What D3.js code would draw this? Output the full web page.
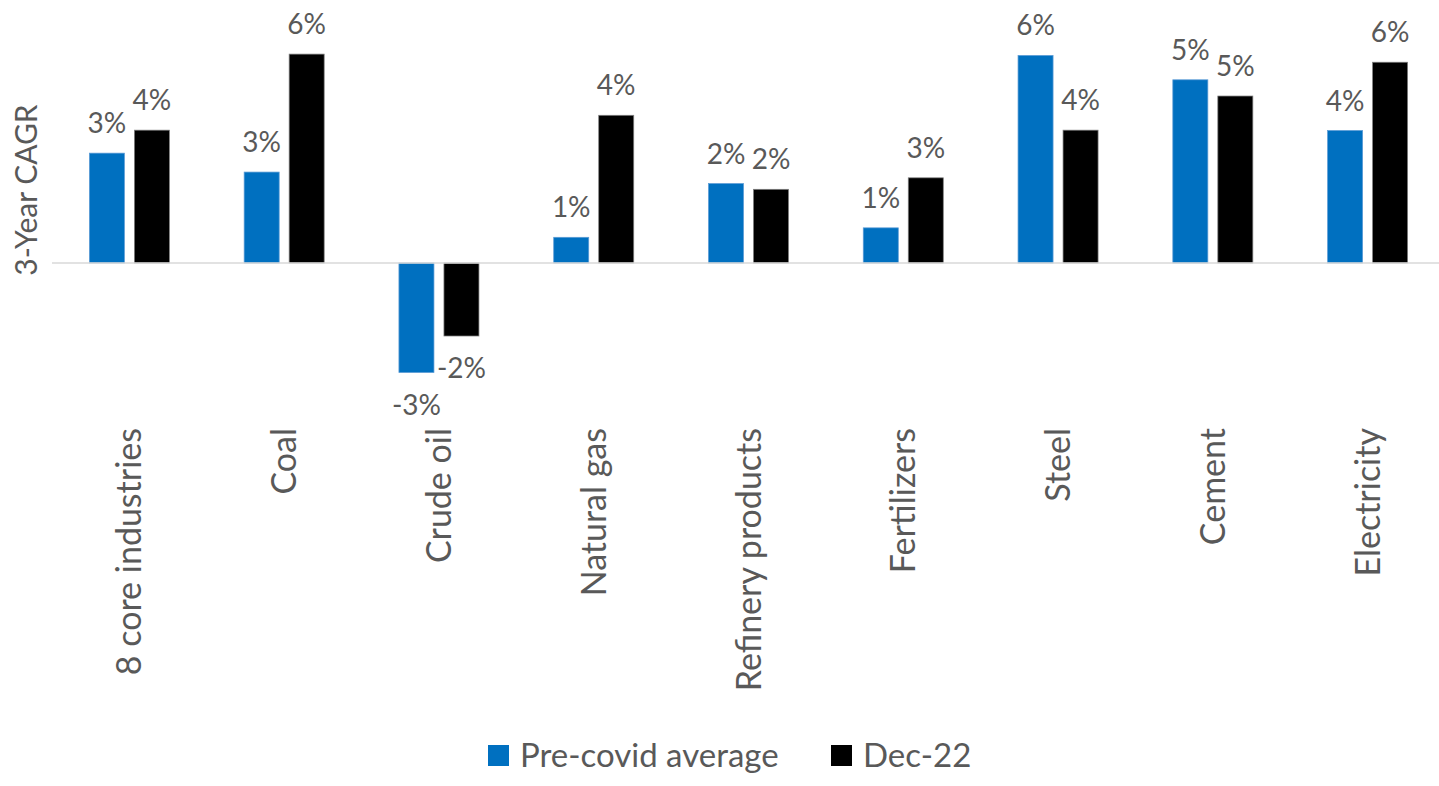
<!DOCTYPE html>
<html>
<head>
<meta charset="utf-8">
<script src="https://cdn.jsdelivr.net/npm/d3@7"></script>
<style>
  body { margin: 0; background: #fff; }
  text { font-family: Lato, "Open Sans", sans-serif; fill: #595959; }
</style>
</head>
<body>
<svg id="chart"></svg>
<script>
// datos
const categorias = ["8 core industries", "Coal", "Crude oil", "Natural gas", "Refinery products",
  "Fertilizers", "Steel", "Cement", "Electricity"];
const series = ["Pre-covid average", "Dec-22"];
const preCovid = [3.25, 2.69, -3.24, 0.76, 2.35, 1.04, 6.14, 5.42, 3.92];
const dec22 = [3.93, 6.18, -2.16, 4.37, 2.18, 2.52, 3.93, 4.94, 5.94];
const colores = ["#0070C0", "#000000"];

const width = 1439;
const height = 786;

const svg = d3.select("#chart")
  .attr("width", width)
  .attr("height", height);

const filas = categorias.map((c, i) => ({ cat: c, vals: [preCovid[i], dec22[i]] }));

const x0 = d3.scaleBand()
  .domain(categorias)
  .range([52, 1445])
  .paddingInner(0.483)
  .paddingOuter(0.2415);

const x1 = d3.scaleBand()
  .domain(series)
  .range([0, x0.bandwidth()])
  .paddingInner(0.222);

const y = d3.scaleLinear()
  .domain([-4, 7])
  .range([398.2, 26.4]);

// formato con guion normal, como en el original
const fmt = v => d3.format(".0f")(v).replace("\u2212", "-") + "%";

// barras
const grupos = svg.append("g").selectAll("g")
  .data(filas)
  .join("g")
  .attr("transform", d => `translate(${x0(d.cat)},0)`);

grupos.selectAll("rect")
  .data(d => d.vals.map((v, j) => ({ serie: series[j], v: v, j: j })))
  .join("rect")
  .attr("x", d => x1(d.serie))
  .attr("width", x1.bandwidth())
  .attr("y", d => y(Math.max(0, d.v)))
  .attr("height", d => Math.abs(y(d.v) - y(0)))
  .attr("fill", d => colores[d.j])
  .attr("stroke", d => d.j == 1 ? "#7f7f7f" : "#5b9bd5")
  .attr("stroke-width", 0.75);

// etiquetas de datos
grupos.selectAll("text.etiqueta")
  .data(d => d.vals.map((v, j) => ({ serie: series[j], v: v, j: j })))
  .join("text")
  .attr("class", "etiqueta")
  .attr("x", d => x1(d.serie) + x1.bandwidth() / 2)
  .attr("y", d => d.v >= 0 ? y(d.v) - 20 : y(d.v) + 42)
  .attr("text-anchor", "middle")
  .attr("font-size", 28)
  .text(d => fmt(d.v));

// linea del eje
svg.append("line")
  .attr("x1", 52)
  .attr("x2", width)
  .attr("y1", y(0))
  .attr("y2", y(0))
  .attr("stroke", "#d9d9d9")
  .attr("stroke-width", 1.5);

// etiquetas de categorias
svg.append("g").selectAll("text")
  .data(categorias)
  .join("text")
  .attr("transform", d => `translate(${x0(d) + x0.bandwidth() / 2 + 12},428) rotate(-90)`)
  .attr("text-anchor", "end")
  .attr("font-size", 34)
  .text(d => d);

// titulo eje y
svg.append("text")
  .attr("transform", "translate(37,190) rotate(-90)")
  .attr("text-anchor", "middle")
  .attr("font-size", 30)
  .text("3-Year CAGR");

// leyenda
const leyenda = [
  { nombre: series[0], color: colores[0], x: 488 },
  { nombre: series[1], color: colores[1], x: 831 }
];
const ley = svg.append("g").selectAll("g")
  .data(leyenda)
  .join("g")
  .attr("transform", d => `translate(${d.x},745)`);
ley.append("rect")
  .attr("width", 21)
  .attr("height", 21)
  .attr("fill", d => d.color);
ley.append("text")
  .attr("x", 32)
  .attr("y", 22)
  .attr("font-size", 33)
  .text(d => d.nombre);
</script>
</body>
</html>
